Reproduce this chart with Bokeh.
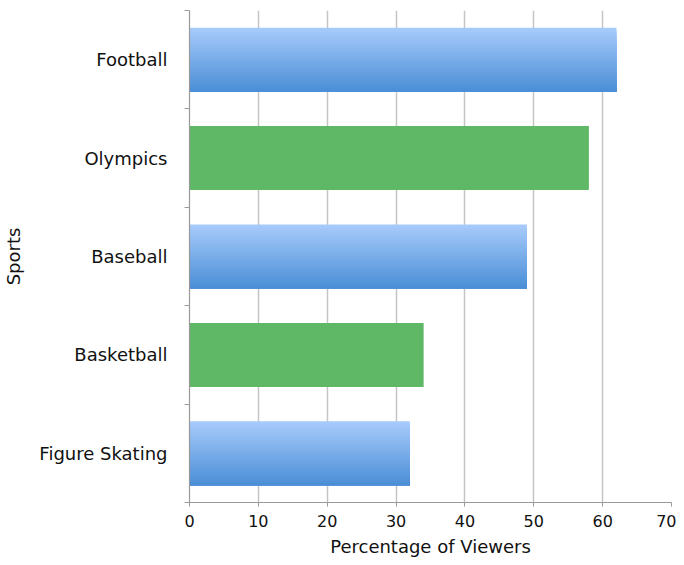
import numpy as np
from bokeh.plotting import figure
from bokeh.models import FixedTicker, Range1d
from bokeh.embed import file_html
from bokeh.resources import INLINE

# data (top to bottom in the chart)
sports = ["Football", "Olympics", "Baseball", "Basketball", "Figure Skating"]
viewers = [62, 58, 49, 34, 32]
bar_kind = ["blue", "green", "blue", "green", "blue"]
x_ticks = [0, 10, 20, 30, 40, 50, 60, 70]

FONT = "DejaVu Sans"
n = len(sports)
ypos = [n - 1 - i + 0.5 for i in range(n)]  # Football at top

p = figure(width=676, height=559, output_backend="svg", toolbar_location=None,
           x_range=Range1d(0, 70), y_range=Range1d(0, n),
           min_border_left=14, min_border_right=5, min_border_top=10, min_border_bottom=8)
p.outline_line_color = None
p.background_fill_color = "white"
p.border_fill_color = "white"

bar_h = 0.65
# green bars: solid
g_idx = [i for i in range(n) if bar_kind[i] == "green"]
p.hbar(y=[ypos[i] for i in g_idx], right=[viewers[i] for i in g_idx], left=0,
       height=bar_h, fill_color="#5fb866", line_color=None)

# blue bars: vertical gradient made of overlapping layers (each reaches the bar bottom)
b_idx = [i for i in range(n) if bar_kind[i] == "blue"]
top_c = np.array([0xa8, 0xcb, 0xfb])
bot_c = np.array([0x4a, 0x8e, 0xd6])
N = 30
sh = bar_h / N
for k in range(N):
    t = (k + 0.5) / N
    c = top_c + (bot_c - top_c) * t
    col = "#%02x%02x%02x" % tuple(int(round(v)) for v in c)
    tops = [ypos[i] + bar_h / 2 - k * sh for i in b_idx]
    bots = [ypos[i] - bar_h / 2 for i in b_idx]
    p.quad(left=0, right=[viewers[i] for i in b_idx], top=tops, bottom=bots,
           fill_color=col, line_color=None)

# axes
p.xaxis.ticker = FixedTicker(ticks=x_ticks)
p.xaxis.axis_label = "Percentage of Viewers"
p.yaxis.ticker = FixedTicker(ticks=ypos, minor_ticks=list(range(n + 1)))
p.yaxis.major_label_overrides = {ypos[i]: sports[i] for i in range(n)}
p.yaxis.axis_label = "Sports"
for ax in (p.xaxis, p.yaxis):
    ax.axis_line_color = "#999999"
    ax.axis_line_width = 1.2
    ax.major_label_text_font = FONT
    ax.major_label_text_font_size = "16px"
    ax.major_label_text_color = "#111111"
    ax.axis_label_text_font = FONT
    ax.axis_label_text_font_size = "18px"
    ax.axis_label_text_font_style = "normal"
    ax.axis_label_text_color = "#111111"
p.yaxis.major_label_text_font_size = "18px"
p.yaxis.major_tick_line_color = None
p.yaxis.minor_tick_line_color = "#999999"
p.yaxis.minor_tick_out = 5
p.yaxis.minor_tick_in = 0
p.xaxis.minor_tick_line_color = None
p.xaxis.major_tick_line_color = "#999999"
p.xaxis.major_tick_in = 0
p.xaxis.major_tick_out = 4
p.yaxis.major_label_standoff = 16
p.xaxis.major_label_standoff = 8
p.xaxis.axis_label_standoff = 6
p.yaxis.axis_label_standoff = 12

p.xgrid.ticker = FixedTicker(ticks=x_ticks)
p.xgrid.grid_line_color = "#c4c4c4"
p.xgrid.grid_line_width = 1.5
p.ygrid.grid_line_color = None

open("out.html", "w").write(file_html(p, INLINE))
